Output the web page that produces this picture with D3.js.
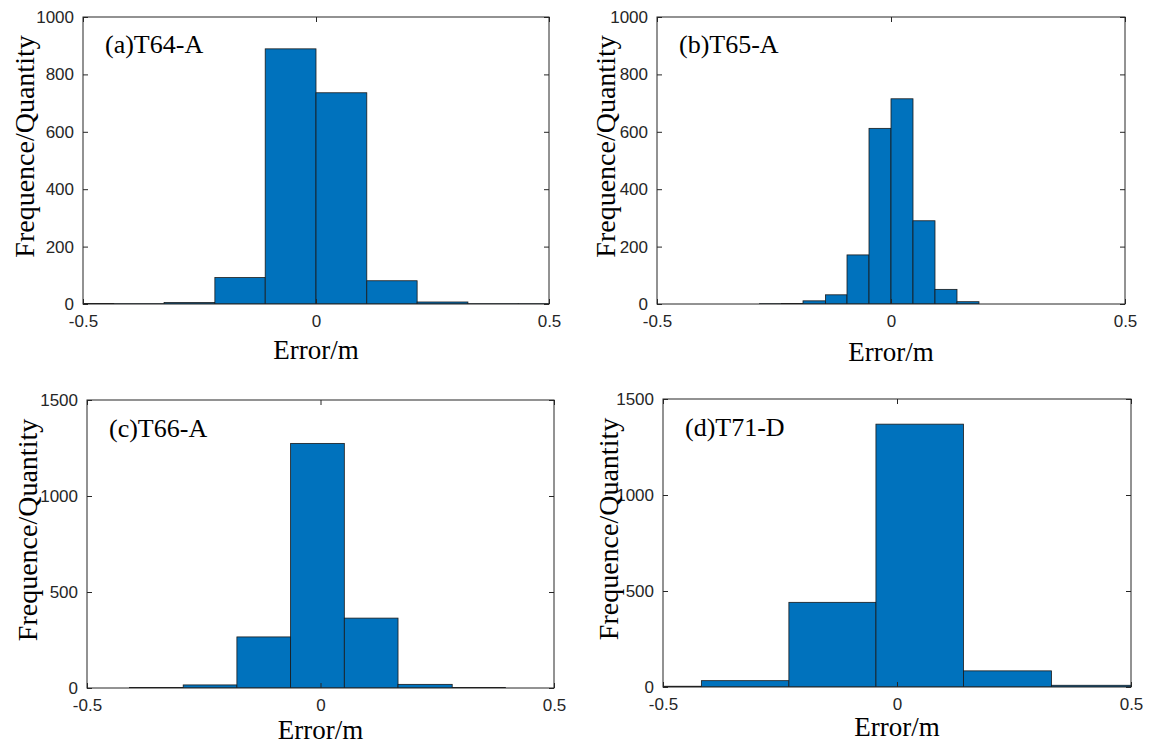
<!DOCTYPE html>
<html>
<head>
<meta charset="utf-8">
<script src="https://cdn.jsdelivr.net/npm/d3@7"></script>
<style>
  body { margin: 0; background: #fff; }
  svg { display: block; }
</style>
</head>
<body>
<div id="chart"></div>
<script>
// bin edges (m) and counts
const edgesA = [-0.543, -0.434, -0.326, -0.217, -0.109, 0, 0.109, 0.217, 0.326, 0.434, 0.543];
const countsA = [2, 1, 5, 92, 889, 736, 81, 7, 1, 1];

const edgesB = [-0.281, -0.234, -0.188, -0.140, -0.094, -0.047, 0, 0.047, 0.094, 0.141, 0.188];
const countsB = [1, 2, 11, 32, 171, 612, 715, 290, 51, 8];

const edgesC = [-0.409, -0.294, -0.179, -0.064, 0.051, 0.166, 0.282, 0.396];
const countsC = [3, 16, 266, 1274, 364, 19, 3];

const edgesD = [-0.605, -0.418, -0.231, -0.045, 0.142, 0.330, 0.517];
const countsD = [4, 33, 441, 1369, 84, 9];

const titles = ["(a)T64-A", "(b)T65-A", "(c)T66-A", "(d)T71-D"];
const xTicks = [-0.5, 0, 0.5];
const yTicksTop = [0, 200, 400, 600, 800, 1000];
const yTicksBottom = [0, 500, 1000, 1500];
const xLabel = "Error/m";
const yLabel = "Frequence/Quantity";

const panels = [
  { edges: edgesA, counts: countsA, title: titles[0], yMax: 1000, yTicks: yTicksTop,
    box: { x: 83, y: 17, w: 466, h: 287 }, ylx: 25, xlOff: 55 },
  { edges: edgesB, counts: countsB, title: titles[1], yMax: 1000, yTicks: yTicksTop,
    box: { x: 657, y: 17, w: 468, h: 287 }, ylx: 606, xlOff: 57 },
  { edges: edgesC, counts: countsC, title: titles[2], yMax: 1500, yTicks: yTicksBottom,
    box: { x: 87, y: 400, w: 467, h: 288 }, ylx: 28, xlOff: 51 },
  { edges: edgesD, counts: countsD, title: titles[3], yMax: 1500, yTicks: yTicksBottom,
    box: { x: 663, y: 399, w: 468, h: 288 }, ylx: 609, xlOff: 49 }
];

const axisColor = "#262626";
const svg = d3.select("#chart").append("svg")
  .attr("width", 1157)
  .attr("height", 745);

panels.forEach(function (p, i) {
  const b = p.box;
  const g = svg.append("g").attr("transform", "translate(" + b.x + "," + b.y + ")");

  const x = d3.scaleLinear().domain([-0.5, 0.5]).range([0, b.w]);
  const y = d3.scaleLinear().domain([0, p.yMax]).range([b.h, 0]);

  g.append("clipPath").attr("id", "clip" + i)
    .append("rect").attr("width", b.w).attr("height", b.h);

  const bins = p.counts.map(function (c, k) {
    return { x0: p.edges[k], x1: p.edges[k + 1], n: c };
  });

  g.append("g").attr("clip-path", "url(#clip" + i + ")")
    .selectAll("rect").data(bins).enter().append("rect")
    .attr("x", function (d) { return x(d.x0); })
    .attr("width", function (d) { return x(d.x1) - x(d.x0); })
    .attr("y", function (d) { return y(d.n); })
    .attr("height", function (d) { return y(0) - y(d.n); })
    .attr("fill", "#0072BD")
    .attr("stroke", "#1a1a1a")
    .attr("stroke-width", 0.8);

  // inward ticks on all four sides, MATLAB style
  g.append("g").attr("transform", "translate(0," + b.h + ")")
    .call(d3.axisBottom(x).tickValues(xTicks).tickSize(-5).tickPadding(11)
      .tickFormat(function (d) { return d3.format("")(d).replace("−", "-"); }));
  g.append("g")
    .call(d3.axisLeft(y).tickValues(p.yTicks).tickSize(-5).tickPadding(9)
      .tickFormat(d3.format("d")));
  g.append("g").call(d3.axisTop(x).tickValues(xTicks).tickSize(-5).tickFormat(""));
  g.append("g").attr("transform", "translate(" + b.w + ",0)")
    .call(d3.axisRight(y).tickValues(p.yTicks).tickSize(-5).tickFormat(""));

  g.selectAll(".domain").remove();
  g.selectAll(".tick line").attr("stroke", axisColor);
  g.selectAll(".tick text")
    .attr("fill", axisColor)
    .style("font-family", "'Liberation Sans', Arial, sans-serif")
    .style("font-size", "17px");

  g.append("rect")
    .attr("width", b.w).attr("height", b.h)
    .attr("fill", "none").attr("stroke", axisColor).attr("stroke-width", 1);

  g.append("text")
    .attr("x", 22).attr("y", i < 2 ? 36 : 37)
    .style("font-family", "'Liberation Serif', 'Times New Roman', serif")
    .style("font-size", "26px")
    .attr("fill", "#000")
    .text(p.title);

  g.append("text")
    .attr("x", b.w / 2).attr("y", b.h + p.xlOff)
    .attr("text-anchor", "middle")
    .style("font-family", "'Liberation Serif', 'Times New Roman', serif")
    .style("font-size", "27px")
    .attr("fill", "#000")
    .text(xLabel);

  svg.append("text")
    .attr("transform", "translate(" + (p.ylx + 9) + "," + (b.y + b.h / 2 - 14) + ") rotate(-90)")
    .attr("text-anchor", "middle")
    .style("font-family", "'Liberation Serif', 'Times New Roman', serif")
    .style("font-size", "28px")
    .attr("fill", "#000")
    .text(yLabel);
});
</script>
</body>
</html>
